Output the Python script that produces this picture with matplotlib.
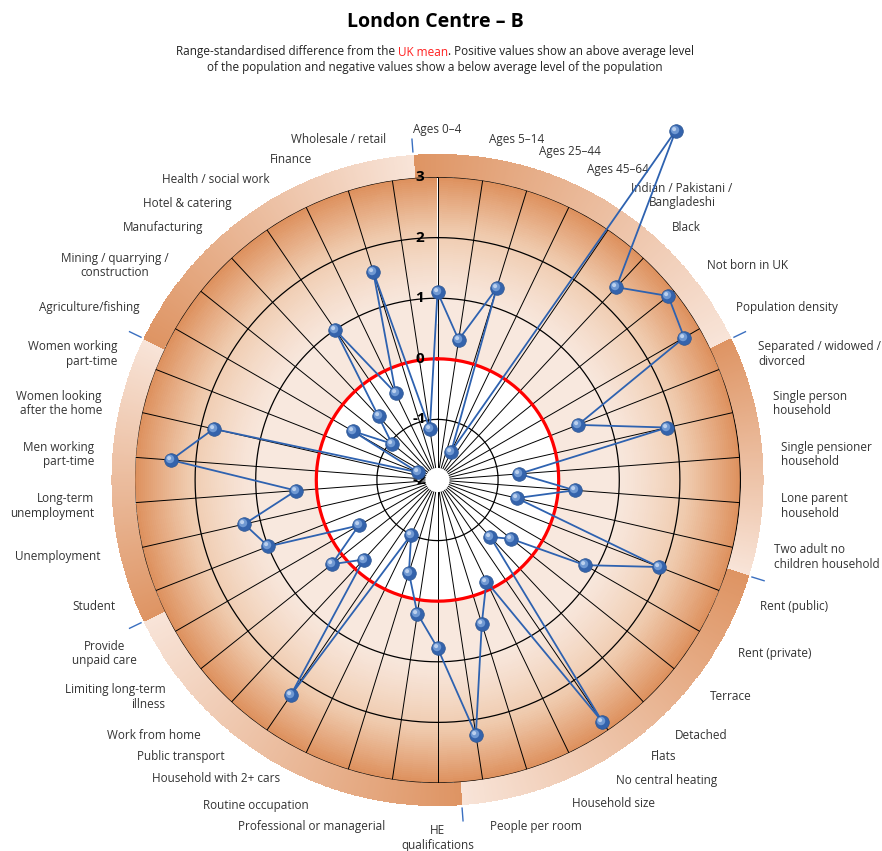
import numpy as np
import matplotlib
matplotlib.use('Agg')
import matplotlib.pyplot as plt
import matplotlib.transforms as mtransforms
from matplotlib.path import Path
from matplotlib.colors import LinearSegmentedColormap

plt.rcParams['font.family'] = ['Open Sans', 'DejaVu Sans']

# variables, clockwise from the top
labels = [
    'Ages 0–4', 'Ages 5–14', 'Ages 25–44', 'Ages 45–64',
    'Indian / Pakistani /\nBangladeshi', 'Black', 'Not born in UK', 'Population density',
    'Separated / widowed /\ndivorced', 'Single person\nhousehold', 'Single pensioner\nhousehold',
    'Lone parent\nhousehold', 'Two adult no\nchildren household',
    'Rent (public)', 'Rent (private)', 'Terrace', 'Detached', 'Flats', 'No central heating',
    'Household size', 'People per room',
    'HE\nqualifications', 'Professional or managerial', 'Routine occupation',
    'Household with 2+ cars', 'Public transport', 'Work from home',
    'Limiting long-term\nillness', 'Provide\nunpaid care',
    'Student', 'Unemployment', 'Long-term\nunemployment', 'Men working\npart-time',
    'Women looking\nafter the home', 'Women working\npart-time',
    'Agriculture/fishing', 'Mining / quarrying /\nconstruction', 'Manufacturing',
    'Hotel & catering', 'Health / social work', 'Finance', 'Wholesale / retail',
]

values = [
    1.10, 0.34, 1.31, -1.48,
    4.98, 2.34, 2.87, 2.70,
    0.49, 1.89, -0.65, 0.27, -0.66,
    1.93, 0.81, -0.44, -0.72, 2.83, -0.14, 0.48, 2.25,
    0.77, 0.23, -0.40, -1.00, 2.30, -0.21, 0.23, -0.50,
    1.00, 1.27, 0.34, 2.41, 1.79, -1.65,
    -0.39, -1.04, -0.57, 1.00, -0.41, 1.60, -1.15,
]

# first and last variable of each domain (ring segment)
domains = [(0, 7), (8, 12), (13, 20), (21, 28), (29, 34), (35, 41)]

ring_values = [-1, 1, 2, 3]
scale_labels = [-2, -1, 0, 1, 2, 3]

# small nudges for crowded labels: angle (degrees) and radius (units)
label_nudge = {17: -3.3, 18: -5.1, 19: -5.4, 23: 4.4, 24: 2.0, 25: 3.2,
               38: -2.4, 39: -3.5, 40: -4.3}
label_pull = {24: -0.2}

W, H = 882, 851
fig = plt.figure(figsize=(W / 100, H / 100), dpi=100)
cx, cy, R = 437.5, 480, 303
ax = fig.add_axes([(cx - R) / W, (H - cy - R) / H, 2 * R / W, 2 * R / H], projection='polar')
ax.set_theta_zero_location('N')
ax.set_theta_direction(-1)
ax.set_ylim(-2, 3)
ax.axis('off')

n = len(labels)
step = 2 * np.pi / n
theta = np.arange(n) * step
tt = np.linspace(0, 2 * np.pi, 361)

# disc shading, white inside the mean circle
rr = np.linspace(0, 3, 91)
rc = (rr[:-1] + rr[1:]) / 2
shade = np.clip((rc - 0.9) / 2.1, 0, 1) ** 1.3
C = np.tile(shade[:, None], (1, len(tt) - 1))
cmap = LinearSegmentedColormap.from_list('disc', ['#F8E8DE', '#EFC9AC', '#DD905D'])
ax.pcolormesh(tt, rr, C, cmap=cmap, vmin=0, vmax=1, shading='flat',
              antialiased=False, zorder=0)

# outer ring, each domain fades from dark to light
ring_edges = np.linspace(-0.5 * step, (n - 0.5) * step, n * 40 + 1)
ring_mid = (ring_edges[:-1] + ring_edges[1:]) / 2
frac = np.zeros_like(ring_mid)
for s, e in domains:
    a0, a1 = (s - 0.5) * step, (e + 0.5) * step
    sel = (ring_mid >= a0) & (ring_mid < a1)
    frac[sel] = (ring_mid[sel] - a0) / (a1 - a0)
    ax.plot([a0, a0], [3.43, 3.64], color='#3A6FC0', lw=1, clip_on=False, zorder=1)
ring_cmap = LinearSegmentedColormap.from_list('ring', ['#DE9463', '#F8E4D8'])
mesh = ax.pcolormesh(ring_edges, [3, 3.38], frac[None, :], cmap=ring_cmap, vmin=0, vmax=1,
                     shading='flat', antialiased=False, zorder=1)
mesh.set_clip_on(False)

# grid
ax.vlines(theta, -2, 3, colors='black', lw=0.7, zorder=2)
for v in ring_values:
    ax.plot(tt, np.full_like(tt, v), color='black', lw=0.9, zorder=3)
ax.plot(tt, np.zeros_like(tt), color='#FF0000', lw=2.3, zorder=3)
ax.bar(0, 0.2, width=2 * np.pi, bottom=-2, color='white', linewidth=0, zorder=4)

off = mtransforms.offset_copy(ax.transData, fig=fig, x=-18, y=0, units='dots')
for v in scale_labels:
    ax.text(0, v, str(v), transform=off, ha='center', va='center', fontsize=11,
            fontweight='bold', color='black', zorder=5)

# data
th = np.append(theta, theta[0])
vv = np.append(values, values[0])
ax.plot(th, vv, color='#2E62B0', lw=1.3, zorder=6, clip_on=False)
ax.plot(theta, values, 'o', ms=9.8, mfc='#3463AC', mec='#2B5592', mew=0.5,
        zorder=7, clip_on=False)


def spot(cxo, cyo, rad):
    c = Path.circle(center=(cxo, cyo), radius=rad)
    verts = np.vstack([[[1, 0], [-1, 0]], c.vertices])
    codes = np.concatenate([[Path.MOVETO, Path.MOVETO], c.codes])
    return Path(verts, codes)


ax.plot(theta, values, ls='none', marker=spot(-0.22, 0.22, 0.62), ms=9.8,
        mfc='#6F98D2', mec='none', zorder=8, clip_on=False)
ax.plot(theta, values, ls='none', marker=spot(-0.35, 0.35, 0.30), ms=9.8,
        mfc='#BBD0EE', mec='none', zorder=9, clip_on=False)

# variable labels
for i, name in enumerate(labels):
    a = theta[i] + np.deg2rad(label_nudge.get(i, 0))
    s, c = np.sin(a), np.cos(a)
    r_lab = 3.68 + 0.1 * max(0.0, -c) + label_pull.get(i, 0)
    va = 'center'
    if s > 0.05:
        ha = 'left'
    elif s < -0.05:
        ha = 'right'
    else:
        ha = 'center'
        va = 'bottom' if c > 0 else 'top'
        r_lab = 3.68
    ma = 'center' if i in (4, 36, 28) else ha
    ax.text(a, r_lab, name, ha=ha, va=va, ma=ma, fontsize=8.5,
            color='#333333', clip_on=False, linespacing=1.15)

# titles
fig.text(435 / W, 1 - 22 / H, 'London Centre – B', ha='center', va='center',
         fontsize=14, fontweight='bold')
parts = [('Range-standardised difference from the ', '#222222'),
         ('UK mean', '#FF2020'),
         ('. Positive values show an above average level', '#222222')]
renderer = fig.canvas.get_renderer()
texts = []
for txt, col in parts:
    t = fig.text(0, 1 - 52 / H, txt, ha='left', va='center', fontsize=8.5, color=col)
    texts.append(t)
widths = [t.get_window_extent(renderer).width for t in texts]
x = 435 - sum(widths) / 2
for t, w in zip(texts, widths):
    t.set_x(x / W)
    x += w
fig.text(435 / W, 1 - 68 / H,
         'of the population and negative values show a below average level of the population',
         ha='center', va='center', fontsize=8.5, color='#222222')

fig.savefig('out.png', dpi=100)
